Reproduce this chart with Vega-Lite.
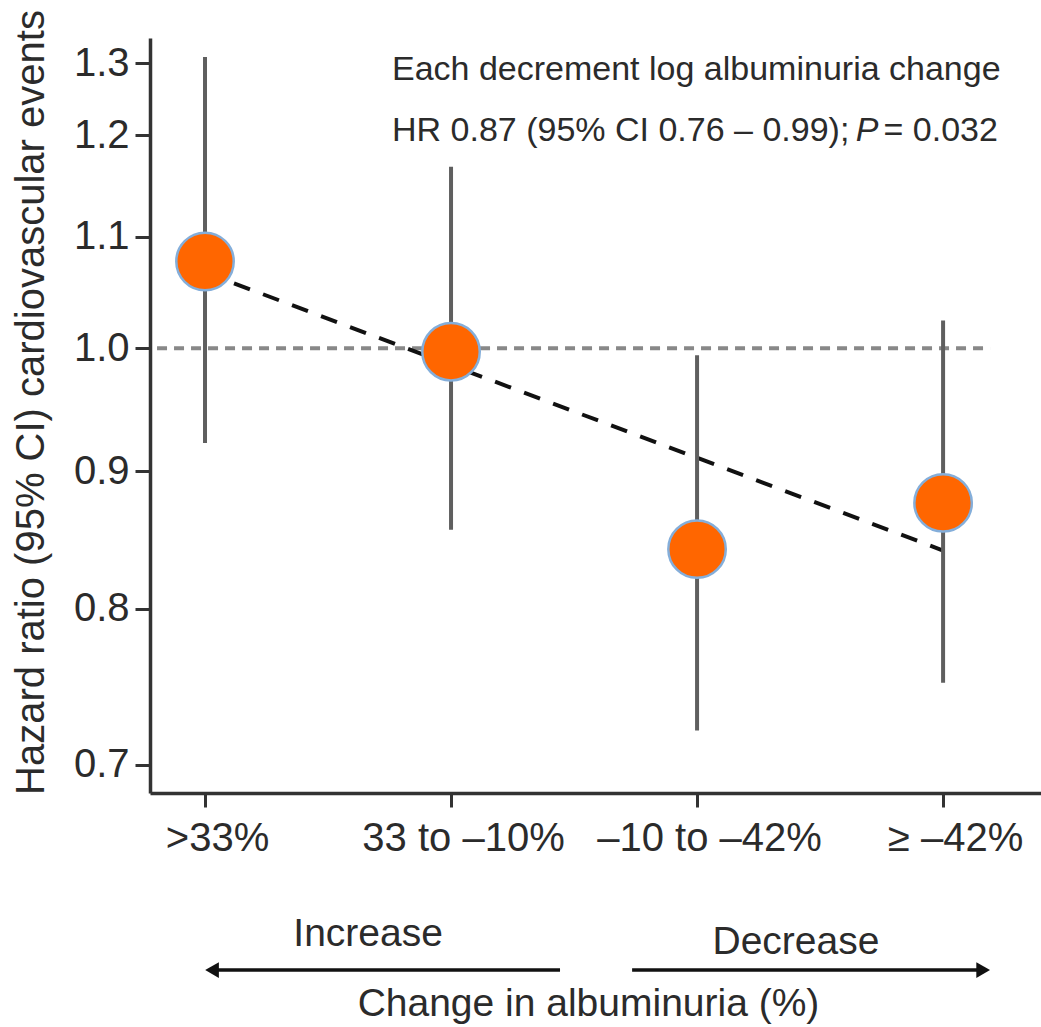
{
  "$schema": "https://vega.github.io/schema/vega-lite/v6.json",
  "width": 891,
  "height": 755,
  "autosize": {"type": "none"},
  "padding": {"left": 150, "top": 38, "right": 0, "bottom": 234},
  "background": "white",
  "config": {"view": {"stroke": null}, "font": "Liberation Sans", "axis": {"grid": false}},
  "datasets": {
    "groups": [
      {"pos": 0, "group": ">33%", "hr": 1.077, "lo": 0.922, "hi": 1.283},
      {"pos": 1, "group": "33 to –10%", "hr": 0.997, "lo": 0.856, "hi": 1.168},
      {"pos": 2, "group": "–10 to –42%", "hr": 0.842, "lo": 0.721, "hi": 0.994},
      {"pos": 3, "group": "≥ –42%", "hr": 0.876, "lo": 0.751, "hi": 1.024}
    ],
    "trend": [{"pos": 0, "hr": 1.067}, {"pos": 3, "hr": 0.841}],
    "ref": [{"pos": -0.195, "pos2": 3.191, "hr": 1.0}],
    "notes": [
      {"pos": 0.76, "hr": 1.258, "label": "Each decrement log albuminuria change"},
      {"pos": 0.76, "hr": 1.194, "label": "HR 0.87 (95% CI 0.76 – 0.99);"},
      {"pos": 2.758, "hr": 1.194, "label": "= 0.032"}
    ],
    "pnote": [{"pos": 2.645, "hr": 1.194, "label": "P"}],
    "dirs": [
      {"pos": 0.663, "hr": 0.5995, "label": "Increase"},
      {"pos": 2.402, "hr": 0.5955, "label": "Decrease"}
    ],
    "arrows": [
      {"pos": 0.0285, "pos2": 1.443, "hr": 0.5873},
      {"pos": 1.736, "pos2": 3.163, "hr": 0.5873}
    ],
    "heads": [
      {"pos": 0.0285, "hr": 0.5873, "dir": "left"},
      {"pos": 3.163, "hr": 0.5873, "dir": "right"}
    ]
  },
  "encoding": {
    "x": {
      "field": "pos", "type": "quantitative",
      "scale": {"domain": [-0.2236, 3.398], "nice": false, "zero": false},
      "title": "Change in albuminuria (%)",
      "axis": {
        "values": [0, 1, 2, 3],
        "labelExpr": "['>33%', '33 to –10%', '–10 to –42%', '≥ –42%'][datum.value]",
        "domainColor": "#333333", "domainWidth": 3.5,
        "tickColor": "#333333", "tickWidth": 3, "tickSize": 14,
        "labelFontSize": 40, "labelColor": "#2b2b2b", "labelPadding": 11, "labelOffset": 12, "labelFlush": false, "labelOverlap": false, "labelLimit": 0,
        "titleFontSize": 39, "titleFontWeight": "normal", "titleColor": "#2b2b2b",
        "titleX": 438, "titleY": 222, "titleBaseline": "alphabetic", "titleAlign": "center"
      }
    },
    "y": {
      "field": "hr", "type": "quantitative",
      "scale": {"type": "log", "domain": [0.6834, 1.304], "nice": false},
      "title": "Hazard ratio (95% CI) cardiovascular events",
      "axis": {
        "values": [0.7, 0.8, 0.9, 1.0, 1.1, 1.2, 1.276],
        "labelExpr": "datum.value > 1.25 ? '1.3' : format(datum.value, '.1f')",
        "domainColor": "#333333", "domainWidth": 3.5,
        "tickColor": "#333333", "tickWidth": 3, "tickSize": 15,
        "labelFontSize": 40, "labelColor": "#2b2b2b", "labelPadding": 6, "labelOverlap": false, "labelLimit": 0,
        "titleFontSize": 40, "titleFontWeight": "normal", "titleColor": "#2b2b2b", "titleLimit": 0,
        "titleX": -107, "titleY": 364, "titleBaseline": "alphabetic", "titleAlign": "center", "titleAngle": -90
      }
    }
  },
  "layer": [
    {
      "data": {"name": "ref"},
      "mark": {"type": "rule", "color": "#888888", "strokeWidth": 4, "strokeDash": [10, 7]},
      "encoding": {"x2": {"field": "pos2"}}
    },
    {
      "data": {"name": "trend"},
      "mark": {"type": "line", "color": "#111111", "strokeWidth": 4, "strokeDash": [17, 14]},
      "encoding": {}
    },
    {
      "data": {"name": "groups"},
      "mark": {"type": "rule", "color": "#5f5f5f", "strokeWidth": 4},
      "encoding": {
        "y": {"field": "lo", "type": "quantitative", "title": "Hazard ratio (95% CI) cardiovascular events"},
        "y2": {"field": "hi"}
      }
    },
    {
      "data": {"name": "groups"},
      "mark": {"type": "point", "shape": "circle", "filled": true, "size": 3300, "fill": "#FF6600", "stroke": "#84AEDA", "strokeWidth": 2.5, "opacity": 1}
    },
    {
      "data": {"name": "notes"},
      "mark": {"type": "text", "align": "left", "baseline": "alphabetic", "fontSize": 34, "color": "#2b2b2b"},
      "encoding": {"text": {"field": "label"}}
    },
    {
      "data": {"name": "pnote"},
      "mark": {"type": "text", "align": "left", "baseline": "alphabetic", "fontSize": 34, "fontStyle": "italic", "color": "#2b2b2b"},
      "encoding": {"text": {"field": "label"}}
    },
    {
      "data": {"name": "dirs"},
      "mark": {"type": "text", "align": "center", "baseline": "alphabetic", "fontSize": 39, "color": "#2b2b2b"},
      "encoding": {"text": {"field": "label"}}
    },
    {
      "data": {"name": "arrows"},
      "mark": {"type": "rule", "color": "#111111", "strokeWidth": 3.5},
      "encoding": {"x2": {"field": "pos2"}}
    },
    {
      "data": {"name": "heads"},
      "mark": {"type": "point", "filled": true, "size": 250, "color": "#111111", "opacity": 1},
      "encoding": {
        "shape": {"field": "dir", "type": "nominal", "scale": {"domain": ["left", "right"], "range": ["triangle-left", "triangle-right"]}, "legend": null}
      }
    }
  ]
}
